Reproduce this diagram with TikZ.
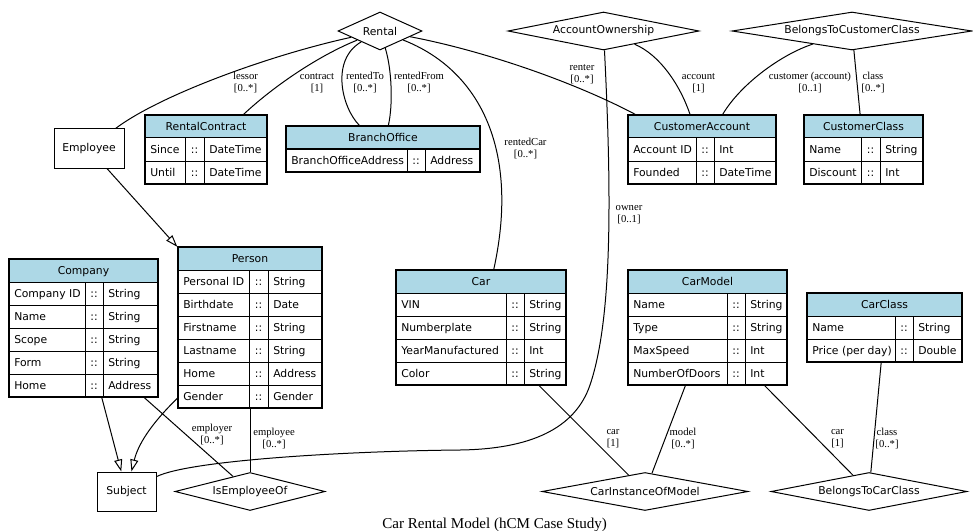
\documentclass[tikz,border=0pt]{standalone}
\usepackage{fontspec}
\setmainfont{Liberation Serif}
\newfontfamily\tablefont{DejaVu Sans}
\usetikzlibrary{arrows.meta,calc,fit,shapes.geometric}

\definecolor{headblue}{RGB}{173,216,230}

\tikzset{
  tabletext/.style={font=\tablefont\fontsize{8.1}{9.7}\selectfont, inner sep=0pt},
  cell/.style={tabletext, anchor=base west},
  tablebox/.style={draw, line width=1pt, inner sep=0pt},
  tablerule/.style={line width=0.75pt},
  relation/.code={%
    \pgfmathsetmacro\relaspect{#1/38}%
    \edef\relopts{\noexpand\tikzset{aspect=\relaspect}}\relopts
    \tikzset{diamond, draw, line width=0.75pt, tabletext, minimum width=#1*0.75pt, minimum height=28.5pt}},
  concept/.style={rectangle, draw, line width=0.75pt, tabletext, minimum width=#1*0.75pt, minimum height=29.25pt},
  assoc/.style={line width=0.75pt},
  isa/.style={line width=0.75pt, -{Triangle[open, length=9pt, width=6pt]}},
  role/.style={font=\fontsize{8}{9}\selectfont, align=center, inner sep=0pt}
}

% #1 name, #2 left, #3 top, #4 #5 rules round the ::, #6 right, #7 rows, #8 title, #9 attributes
\newcommand{\entitytable}[9]{%
  \pgfmathsetmacro\tablebottom{#3+23*(#7+1)}
  \fill[headblue] (#2,#3) rectangle (#6,#3+23);
  \node[tabletext, anchor=base] at ({(#2+#6)/2},#3+15.2) {#8};
  \foreach \attname/\atttype [count=\rowno] in {#9} {
    \pgfmathsetmacro\rowtop{#3+23*\rowno}
    \draw[tablerule] (#2,\rowtop) -- (#6,\rowtop);
    \node[cell] at (#2+5,\rowtop+15.2) {\attname};
    \node[tabletext, anchor=base] at ({(#4+#5)/2},\rowtop+15.2) {::};
    \node[cell] at (#5+5,\rowtop+15.2) {\atttype};
  }
  \draw[tablerule] (#4,#3+23) -- (#4,\tablebottom) (#5,#3+23) -- (#5,\tablebottom);
  \node[tablebox, fit={(#2,#3) (#6,\tablebottom)}] (#1) {};
}

\begin{document}
\begin{tikzpicture}[x=0.75pt,y=-0.75pt]
  \useasboundingbox (0,0) rectangle (973,531);

  % relationships
  \node[relation=84] (rental) at (380,31) {Rental};
  \node[relation=191] (accountownership) at (603.5,31) {AccountOwnership};
  \node[relation=240] (customerclassof) at (852,31) {BelongsToCustomerClass};
  \node[relation=150] (isemployeeof) at (250,491.5) {IsEmployeeOf};
  \node[relation=206] (carinstanceofmodel) at (645,491.5) {CarInstanceOfModel};
  \node[relation=196] (belongstocarclass) at (869,491.5) {BelongsToCarClass};

  % plain concepts
  \node[concept=70] (employee) at (89,148.5) {Employee};
  \node[concept=59] (subject) at (126.5,491.5) {Subject};

  % concepts with attributes
  \entitytable{rentalcontract}{145}{115}{185}{204}{267}{2}{RentalContract}{Since/DateTime, Until/DateTime}
  \entitytable{branchoffice}{286}{126}{407}{425}{480}{1}{BranchOffice}{BranchOfficeAddress/Address}
  \entitytable{customeraccount}{628}{115}{696}{714}{776}{2}{CustomerAccount}{Account ID/Int, Founded/DateTime}
  \entitytable{customerclass}{804}{115}{861}{880}{923}{2}{CustomerClass}{Name/String, Discount/Int}
  \entitytable{company}{9}{259}{85}{103}{158}{5}{Company}{Company ID/String, Name/String, Scope/String, Form/String, Home/Address}
  \entitytable{person}{178}{247}{249}{268}{322}{6}{Person}{Personal ID/String, Birthdate/Date, Firstname/String, Lastname/String, Home/Address, Gender/Gender}
  \entitytable{car}{396}{270}{506}{524}{566}{4}{Car}{VIN/String, Numberplate/String, YearManufactured/Int, Color/String}
  \entitytable{carmodel}{628}{270}{727}{745}{787}{4}{CarModel}{Name/String, Type/String, MaxSpeed/Int, NumberOfDoors/Int}
  \entitytable{carclass}{807}{293}{895}{913}{962}{2}{CarClass}{Name/String, Price (per day)/Double}

  % roles
  \draw[assoc] (rental) .. controls (270,55) and (160,95) .. (employee);
  \draw[assoc] (rental) .. controls (320,55) and (275,85) .. (rentalcontract);
  \draw[assoc] (rental) .. controls (330,60) and (342,108) .. (branchoffice);
  \draw[assoc] (rental) .. controls (392,70) and (393,105) .. (branchoffice);
  \draw[assoc] (rental) .. controls (480,70) and (520,150) .. (car);
  \draw[assoc] (rental) .. controls (480,50) and (570,80) .. (customeraccount);
  \draw[assoc] (accountownership) .. controls (660,55) and (680,85) .. (customeraccount);
  \draw[assoc] (accountownership) .. controls (612,200) and (612,320) .. (590,385)
    .. controls (575,429) and (530,449) .. (460,450)
    .. controls (350,451) and (190,460) .. (subject);
  \draw[assoc] (customerclassof) .. controls (780,55) and (740,85) .. (customeraccount);
  \draw[assoc] (customerclassof) -- (customerclass);
  \draw[assoc] ($(company.south west)+(136,0)$) -- (isemployeeof);
  \draw[assoc] (person) -- (isemployeeof);
  \draw[assoc] (car) -- (carinstanceofmodel);
  \draw[assoc] (carmodel) -- (carinstanceofmodel);
  \draw[assoc] (carmodel) -- (belongstocarclass);
  \draw[assoc] (carclass) -- (belongstocarclass);

  % generalisation
  \draw[isa] (employee) -- (person);
  \draw[isa] (company) -- (subject);
  \draw[isa] (person) .. controls (150,425) and (138,445) .. (subject);

  % role labels
  \node[role] (lessorlbl) at (245.5,83) {lessor\\{[0..*]}};
  \node[role] (contractlbl) at (317,83) {contract\\{[1]}};
  \node[role] (rentedtolbl) at (365,83) {rentedTo\\{[0..*]}};
  \node[role] (rentedfromlbl) at (419,83) {rentedFrom\\{[0..*]}};
  \node[role] (renterlbl) at (582,74) {renter\\{[0..*]}};
  \node[role] (accountlbl) at (698.5,83) {account\\{[1]}};
  \node[role] (customerlbl) at (810,83) {customer (account)\\{[0..1]}};
  \node[role] (custclasslbl) at (873,83) {class\\{[0..*]}};
  \node[role] (rentedcarlbl) at (525.5,149) {rentedCar\\{[0..*]}};
  \node[role] (ownerlbl) at (629,215) {owner\\{[0..1]}};
  \node[role] (employerlbl) at (212,434.5) {employer\\{[0..*]}};
  \node[role] (employeelbl) at (274,438.5) {employee\\{[0..*]}};
  \node[role] (carlbl) at (613,439) {car\\{[1]}};
  \node[role] (modellbl) at (683,439) {model\\{[0..*]}};
  \node[role] (carclasscarlbl) at (837.5,439) {car\\{[1]}};
  \node[role] (classlbl) at (887,439) {class\\{[0..*]}};

  \node[anchor=base west, inner sep=0pt, font=\fontsize{11.3}{13}\selectfont] (caption) at (382,528) {Car Rental Model (hCM Case Study)};
\end{tikzpicture}
\end{document}
